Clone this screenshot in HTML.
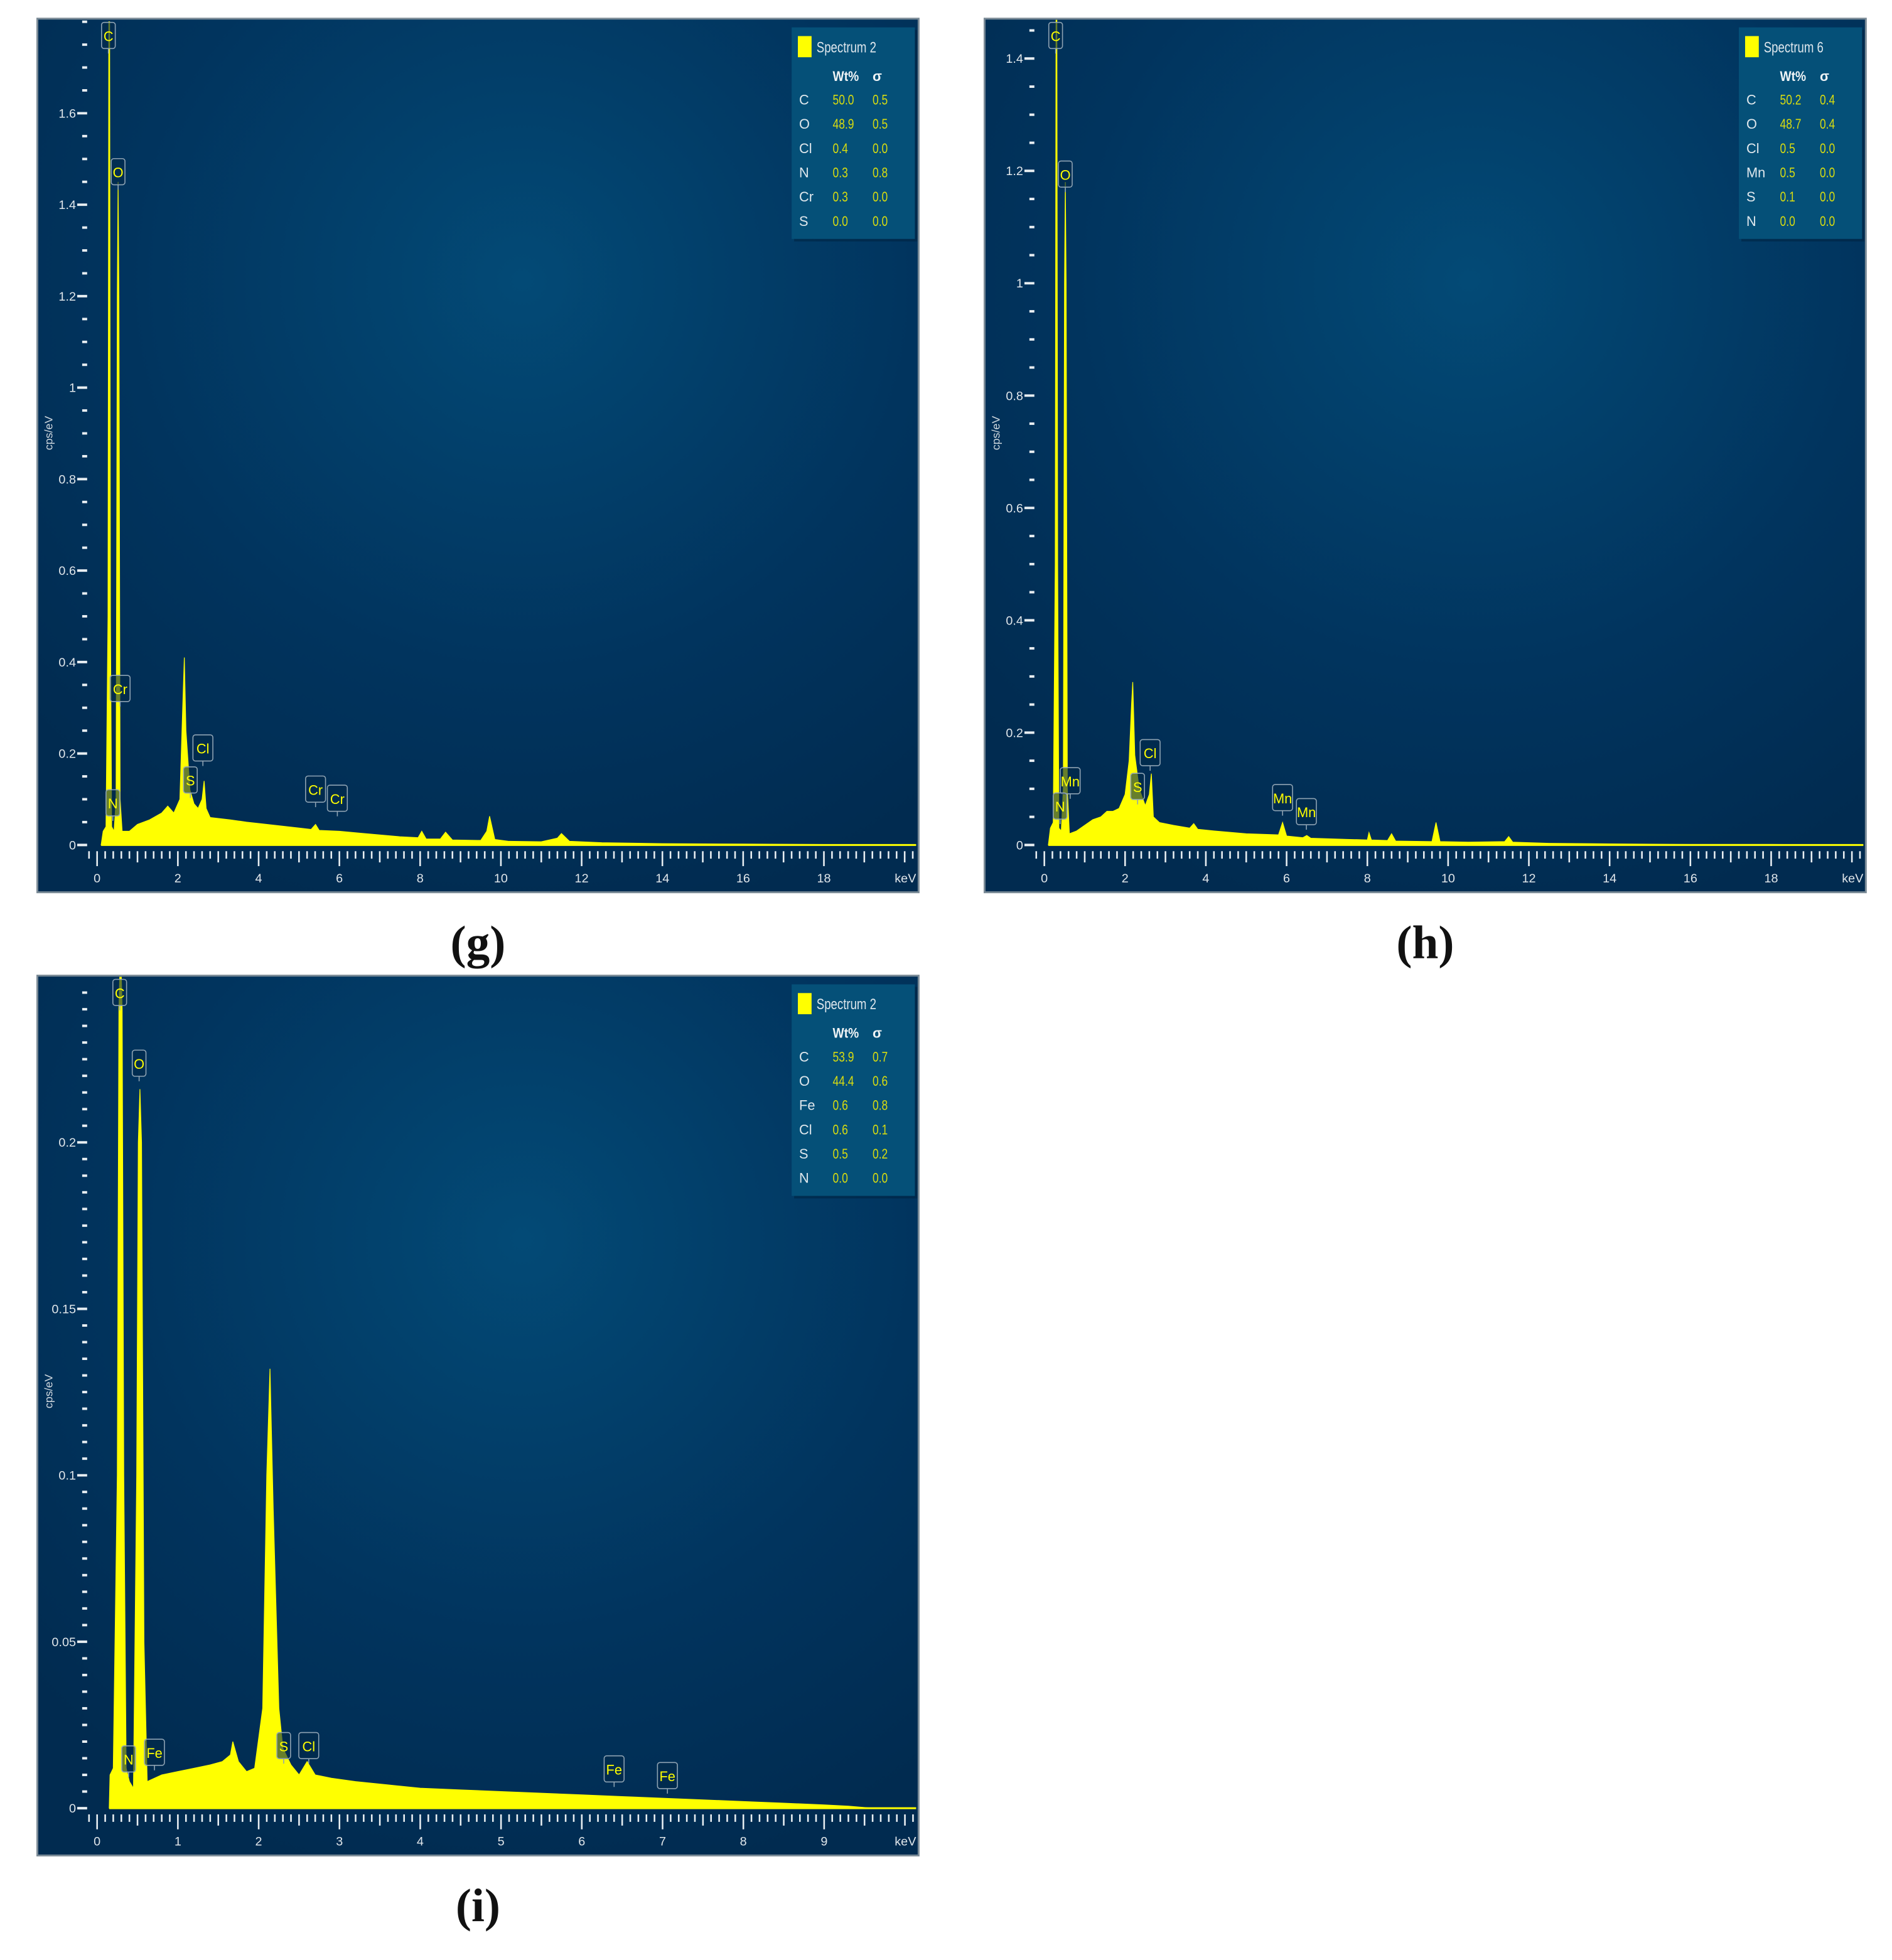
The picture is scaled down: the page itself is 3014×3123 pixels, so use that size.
<!DOCTYPE html>
<html><head><meta charset="utf-8">
<style>
html,body{margin:0;padding:0;background:#fff;}
svg{display:block;}
text{font-family:"Liberation Sans",sans-serif;}
text.cap{font-family:"Liberation Serif",serif;}
</style></head>
<body>
<svg id="fig" width="3014" height="3123" viewBox="0 0 1520 1575" xmlns="http://www.w3.org/2000/svg">
<defs>
<radialGradient id="bg" cx="0.55" cy="0.3" r="0.75">
<stop offset="0" stop-color="#034a76"/>
<stop offset="0.6" stop-color="#01345e"/>
<stop offset="1" stop-color="#012b50"/>
</radialGradient>
<clipPath id="cg"><rect x="31" y="16" width="706" height="700"/></clipPath>
<clipPath id="ch"><rect x="792" y="16" width="706" height="700"/></clipPath>
<clipPath id="ci"><rect x="31" y="785" width="706" height="705"/></clipPath>
</defs>
<g id="root"></g>
</svg>
<script>
// ---------- Panel (g) data ----------
const gEnergy = [0.1,0.15,0.22,0.27,0.29,0.31,0.33,0.36,0.42,0.47,0.5,0.52,0.54,0.57,0.62,0.8,1.0,1.3,1.6,1.75,1.9,2.05,2.12,2.16,2.2,2.3,2.4,2.5,2.6,2.65,2.7,2.8,3.0,3.3,3.7,4.0,4.5,5.0,5.3,5.41,5.5,6.0,6.5,7.0,7.5,7.95,8.04,8.15,8.5,8.63,8.8,9.5,9.65,9.72,9.85,10.2,11.0,11.4,11.5,11.7,12.5,14,16,18,20.2];
const gCounts = [0,0.03,0.04,0.5,1.8,1.8,0.5,0.04,0.03,0.1,1.2,1.45,1.2,0.1,0.03,0.03,0.045,0.055,0.07,0.085,0.07,0.1,0.3,0.41,0.25,0.12,0.09,0.08,0.1,0.14,0.08,0.06,0.058,0.055,0.05,0.047,0.042,0.037,0.034,0.045,0.032,0.03,0.026,0.022,0.018,0.016,0.03,0.013,0.013,0.028,0.011,0.01,0.03,0.063,0.012,0.008,0.007,0.015,0.025,0.008,0.005,0.003,0.002,0.001,0];
const gYTicks = [0,0.2,0.4,0.6,0.8,1,1.2,1.4,1.6];
const gXTicks = [0,2,4,6,8,10,12,14,16,18];
const gLegendEl = ["C","O","Cl","N","Cr","S"];
const gLegendWt = ["50.0","48.9","0.4","0.3","0.3","0.0"];
const gLegendSd = ["0.5","0.5","0.0","0.8","0.0","0.0"];
const gMarkerEl = ["C","O","Cr","Cl","S","N","Cr","Cr"];
const gMarkerE = [0.28,0.52,0.57,2.62,2.31,0.39,5.41,5.95];
const gMarkerV = [1.76,1.43,0.3,0.17,0.1,0.05,0.08,0.06];

// ---------- Panel (h) data ----------
const hEnergy = [0.1,0.15,0.22,0.27,0.29,0.31,0.33,0.36,0.42,0.47,0.5,0.52,0.54,0.57,0.62,0.8,1.0,1.2,1.4,1.55,1.7,1.85,2.0,2.1,2.16,2.19,2.24,2.35,2.5,2.6,2.65,2.7,2.85,3.2,3.6,3.7,3.8,4.2,5.0,5.8,5.9,6.0,6.4,6.5,6.6,7.5,8.0,8.04,8.1,8.5,8.6,8.7,9.6,9.7,9.8,10.5,11.4,11.5,11.6,12.5,14,16,18,20.2];
const hCounts = [0,0.03,0.04,0.5,1.5,1.5,0.5,0.03,0.025,0.1,1.0,1.18,1.0,0.1,0.02,0.025,0.035,0.045,0.05,0.06,0.06,0.065,0.09,0.15,0.25,0.29,0.16,0.1,0.07,0.09,0.127,0.05,0.04,0.035,0.03,0.038,0.028,0.025,0.02,0.018,0.04,0.016,0.013,0.017,0.012,0.01,0.009,0.022,0.009,0.008,0.02,0.007,0.006,0.04,0.006,0.005,0.006,0.015,0.005,0.003,0.002,0.001,0.001,0];
const hYTicks = [0,0.2,0.4,0.6,0.8,1,1.2,1.4];
const hXTicks = [0,2,4,6,8,10,12,14,16,18];
const hLegendEl = ["C","O","Cl","Mn","S","N"];
const hLegendWt = ["50.2","48.7","0.5","0.5","0.1","0.0"];
const hLegendSd = ["0.4","0.4","0.0","0.0","0.0","0.0"];
const hMarkerEl = ["C","O","Cl","Mn","S","N","Mn","Mn"];
const hMarkerE = [0.28,0.52,2.62,0.64,2.31,0.39,5.9,6.49];
const hMarkerV = [1.44,1.16,0.13,0.08,0.07,0.035,0.05,0.025];

// ---------- Panel (i) data ----------
const iEnergy = [0.15,0.16,0.2,0.25,0.27,0.29,0.31,0.33,0.36,0.4,0.45,0.49,0.51,0.53,0.55,0.58,0.62,0.8,1.0,1.2,1.4,1.55,1.65,1.68,1.75,1.85,1.95,2.05,2.1,2.14,2.18,2.25,2.3,2.4,2.5,2.6,2.7,2.9,3.2,3.6,4.0,4.5,5.0,5.5,6.0,6.5,7.0,7.5,8.0,8.5,9.0,9.3,9.6];
const iCounts = [0,0.01,0.012,0.1,0.24,0.26,0.24,0.1,0.012,0.008,0.006,0.1,0.2,0.216,0.2,0.05,0.008,0.01,0.011,0.012,0.013,0.014,0.016,0.02,0.014,0.011,0.012,0.03,0.1,0.132,0.09,0.03,0.018,0.013,0.01,0.014,0.01,0.009,0.008,0.007,0.006,0.0055,0.005,0.0045,0.004,0.0035,0.003,0.0025,0.002,0.0015,0.001,0.0006,0];
const iYTicks = [0,0.05,0.1,0.15,0.2];
const iYTickLabels = ["0","0.05","0.1","0.15","0.2"];
const iXTicks = [0,1,2,3,4,5,6,7,8,9];
const iLegendEl = ["C","O","Fe","Cl","S","N"];
const iLegendWt = ["53.9","44.4","0.6","0.6","0.5","0.0"];
const iLegendSd = ["0.7","0.6","0.8","0.1","0.2","0.0"];
const iMarkerEl = ["C","O","N","Fe","S","Cl","Fe","Fe"];
const iMarkerE = [0.28,0.52,0.39,0.71,2.31,2.62,6.4,7.06];
const iMarkerV = [0.245,0.218,0.009,0.011,0.013,0.013,0.006,0.004];

const NS = "http://www.w3.org/2000/svg";
const root = document.getElementById('root');
function mk(tag, attrs, parent){
  const e = document.createElementNS(NS, tag);
  for (const k in attrs) e.setAttribute(k, attrs[k]);
  (parent||root).appendChild(e);
  return e;
}

function panel(cfg){
  const g = mk('g', {});
  
  
  const sx = e => cfg.ox + e*cfg.kx;
  const sy = v => cfg.oy - v*cfg.ky;
  const fr = mk('rect', {x:cfg.fx, y:cfg.fy, width:708, height:cfg.fh, fill:'url(#bg)', stroke:'#7a8a96', 'stroke-width':1.5}, g);
  
  
  let pts = cfg.energy.map((e,i)=> sx(e).toFixed(2)+','+sy(cfg.counts[i]).toFixed(2));
  pts.push(sx(cfg.energy[cfg.energy.length-1]).toFixed(2)+','+cfg.oy, sx(cfg.energy[0]).toFixed(2)+','+cfg.oy);
  const sp = mk('polygon', {points:pts.join(' '), fill:'#ffff00', stroke:'#ffff00', 'stroke-width':0.6, 'clip-path':cfg.clip}, g);
  
  
  mk('line', {x1:sx(cfg.energy[0]), y1:cfg.oy, x2:cfg.fx+706, y2:cfg.oy, stroke:'#ffff00', 'stroke-width':1.5}, g);
  const yAx = mk('g', {}, g);
  
  
  for (let v=0; sy(v) >= cfg.fy+2; v = Math.round((v+cfg.yMinor)*10000)/10000){
    const isMaj = cfg.yTicks.some(t=>Math.abs(t-v)<1e-6);
    mk('line', {x1: isMaj? cfg.ox-16 : cfg.ox-12, x2: cfg.ox-8, y1:sy(v), y2:sy(v), stroke:'#e8eef2', 'stroke-width':2}, yAx);
  }
  cfg.yTicks.forEach((t,i)=>{
    const tx = mk('text', {x:cfg.ox-17, y:sy(t)+3.5, 'font-size':10, fill:'#e0e6ea', 'text-anchor':'end'}, yAx);
    tx.textContent = cfg.yLabels ? cfg.yLabels[i] : String(t);
  });
  const yt = mk('text', {x:0, y:0, 'font-size':9, fill:'#d0d8de', 'text-anchor':'middle', transform:`translate(${cfg.fx+12},${cfg.yTitleY}) rotate(-90)`}, yAx);
  yt.textContent = 'cps/eV';
  
  
  const xAx = mk('g', {}, g);
  
  
  const step = cfg.xMinor;
  for (let k=0; sx(k*step - step) <= cfg.fx+706; k++){
    const e = k*step - step;
    const major = cfg.xTicks.some(t=>Math.abs(t-e)<1e-6);
    const mid = Math.abs((e/cfg.xMid) - Math.round(e/cfg.xMid))<1e-6;
    const len = major ? 12 : (mid ? 9 : 6);
    const x = sx(e);
    if (x < cfg.fx+2 || x > cfg.fx+706) continue;
    mk('line', {x1:x, x2:x, y1:cfg.oy+5, y2:cfg.oy+5+len, stroke:'#e8eef2', 'stroke-width':1.3}, xAx);
  }
  cfg.xTicks.forEach(t=>{
    const tx = mk('text', {x:sx(t), y:cfg.oy+30, 'font-size':10, fill:'#e0e6ea', 'text-anchor':'middle'}, xAx);
    tx.textContent = String(t);
  });
  const kev = mk('text', {x:cfg.fx+706, y:cfg.oy+30, 'font-size':10, fill:'#e0e6ea', 'text-anchor':'end'}, xAx);
  kev.textContent = 'keV';
  
  
  cfg.mEl.forEach((el,i)=>{
    const mg = mk('g', {}, g);
    
    
    const x = sx(cfg.mE[i]), y = sy(cfg.mV[i]);
    const w = el.length>1 ? 16 : 11, h = 21;
    const top = Math.max(cfg.fy+3, y-h-5);
    mk('rect', {x:x-w/2, y:top, width:w, height:h, rx:2, fill:'#022a4a', 'fill-opacity':0.6, stroke:'#8fa3b3', 'stroke-width':0.8}, mg);
    mk('line', {x1:x, x2:x, y1:top+h, y2:top+h+4, stroke:'#8fa3b3', 'stroke-width':0.8}, mg);
    const tx = mk('text', {x:x, y:top+15, 'font-size':11, fill:'#ffff00', 'text-anchor':'middle'}, mg);
    tx.textContent = el;
  });
  const lg = mk('g', {}, g);
  
  
  const lx = cfg.lx, ly = cfg.ly;
  mk('rect', {x:lx+2, y:ly+2, width:99, height:170, fill:'#00203c', 'fill-opacity':0.5}, lg);
  mk('rect', {x:lx, y:ly, width:99, height:170, fill:'#055078'}, lg);
  const sw = mk('rect', {x:lx+5, y:ly+7, width:11, height:17, fill:'#ffff00'}, lg);
  
  
  const tt = mk('text', {x:lx+20, y:ly+20, 'font-size':12, fill:'#dde6ec', textLength:48, lengthAdjust:'spacingAndGlyphs'}, lg);
  tt.textContent = cfg.title;
  const h1 = mk('text', {x:lx+33, y:ly+43, 'font-size':11, 'font-weight':'bold', fill:'#f0f4f6', textLength:21, lengthAdjust:'spacingAndGlyphs'}, lg);
  h1.textContent = 'Wt%';
  const h2 = mk('text', {x:lx+65, y:ly+43, 'font-size':11, 'font-weight':'bold', fill:'#f0f4f6'}, lg);
  h2.textContent = 'σ';
  cfg.lEl.forEach((el,i)=>{
    const yy = ly+62+i*19.5;
    const row = mk('g', {}, lg);
    
    
    const a = mk('text', {x:lx+6, y:yy, 'font-size':11, fill:'#dfe7ec'}, row); a.textContent = el;
    const b = mk('text', {x:lx+33, y:yy, 'font-size':11, fill:'#d8dc10', transform:`translate(${lx+33},0) scale(0.8,1) translate(${-(lx+33)},0)`}, row); b.textContent = cfg.lWt[i];
    const c = mk('text', {x:lx+65, y:yy, 'font-size':11, fill:'#d8dc10', transform:`translate(${lx+65},0) scale(0.8,1) translate(${-(lx+65)},0)`}, row); c.textContent = cfg.lSd[i];
  });
  const cap = mk('text', {x:cfg.fx+354, y:cfg.capY, 'font-size':38, 'font-weight':'bold', fill:'#111', 'text-anchor':'middle', class:'cap'}, root);
  cap.textContent = cfg.caption;
  
  
}

panel({name:'panel-g', fx:30, fy:15, fh:702, ox:78, kx:32.44, oy:679, ky:367.5, clip:'url(#cg)',
  energy:gEnergy, counts:gCounts, yTicks:gYTicks, yMinor:0.05, xTicks:gXTicks, xMinor:0.2, xMid:1, yTitleY:348,
  mEl:gMarkerEl, mE:gMarkerE, mV:gMarkerV, lx:636, ly:22, title:'Spectrum 2', lEl:gLegendEl, lWt:gLegendWt, lSd:gLegendSd,
  caption:'(g)', capY:770});
panel({name:'panel-h', fx:791, fy:15, fh:702, ox:839, kx:32.44, oy:679, ky:451.4, clip:'url(#ch)',
  energy:hEnergy, counts:hCounts, yTicks:hYTicks, yMinor:0.05, xTicks:hXTicks, xMinor:0.2, xMid:1, yTitleY:348,
  mEl:hMarkerEl, mE:hMarkerE, mV:hMarkerV, lx:1397, ly:22, title:'Spectrum 6', lEl:hLegendEl, lWt:hLegendWt, lSd:hLegendSd,
  caption:'(h)', capY:770});
panel({name:'panel-i', fx:30, fy:784, fh:707, ox:78, kx:64.9, oy:1453, ky:2675, clip:'url(#ci)',
  energy:iEnergy, counts:iCounts, yTicks:iYTicks, yLabels:iYTickLabels, yMinor:0.005, xTicks:iXTicks, xMinor:0.1, xMid:0.5, yTitleY:1118,
  mEl:iMarkerEl, mE:iMarkerE, mV:iMarkerV, lx:636, ly:791, title:'Spectrum 2', lEl:iLegendEl, lWt:iLegendWt, lSd:iLegendSd,
  caption:'(i)', capY:1544});
</script>
</body></html>
